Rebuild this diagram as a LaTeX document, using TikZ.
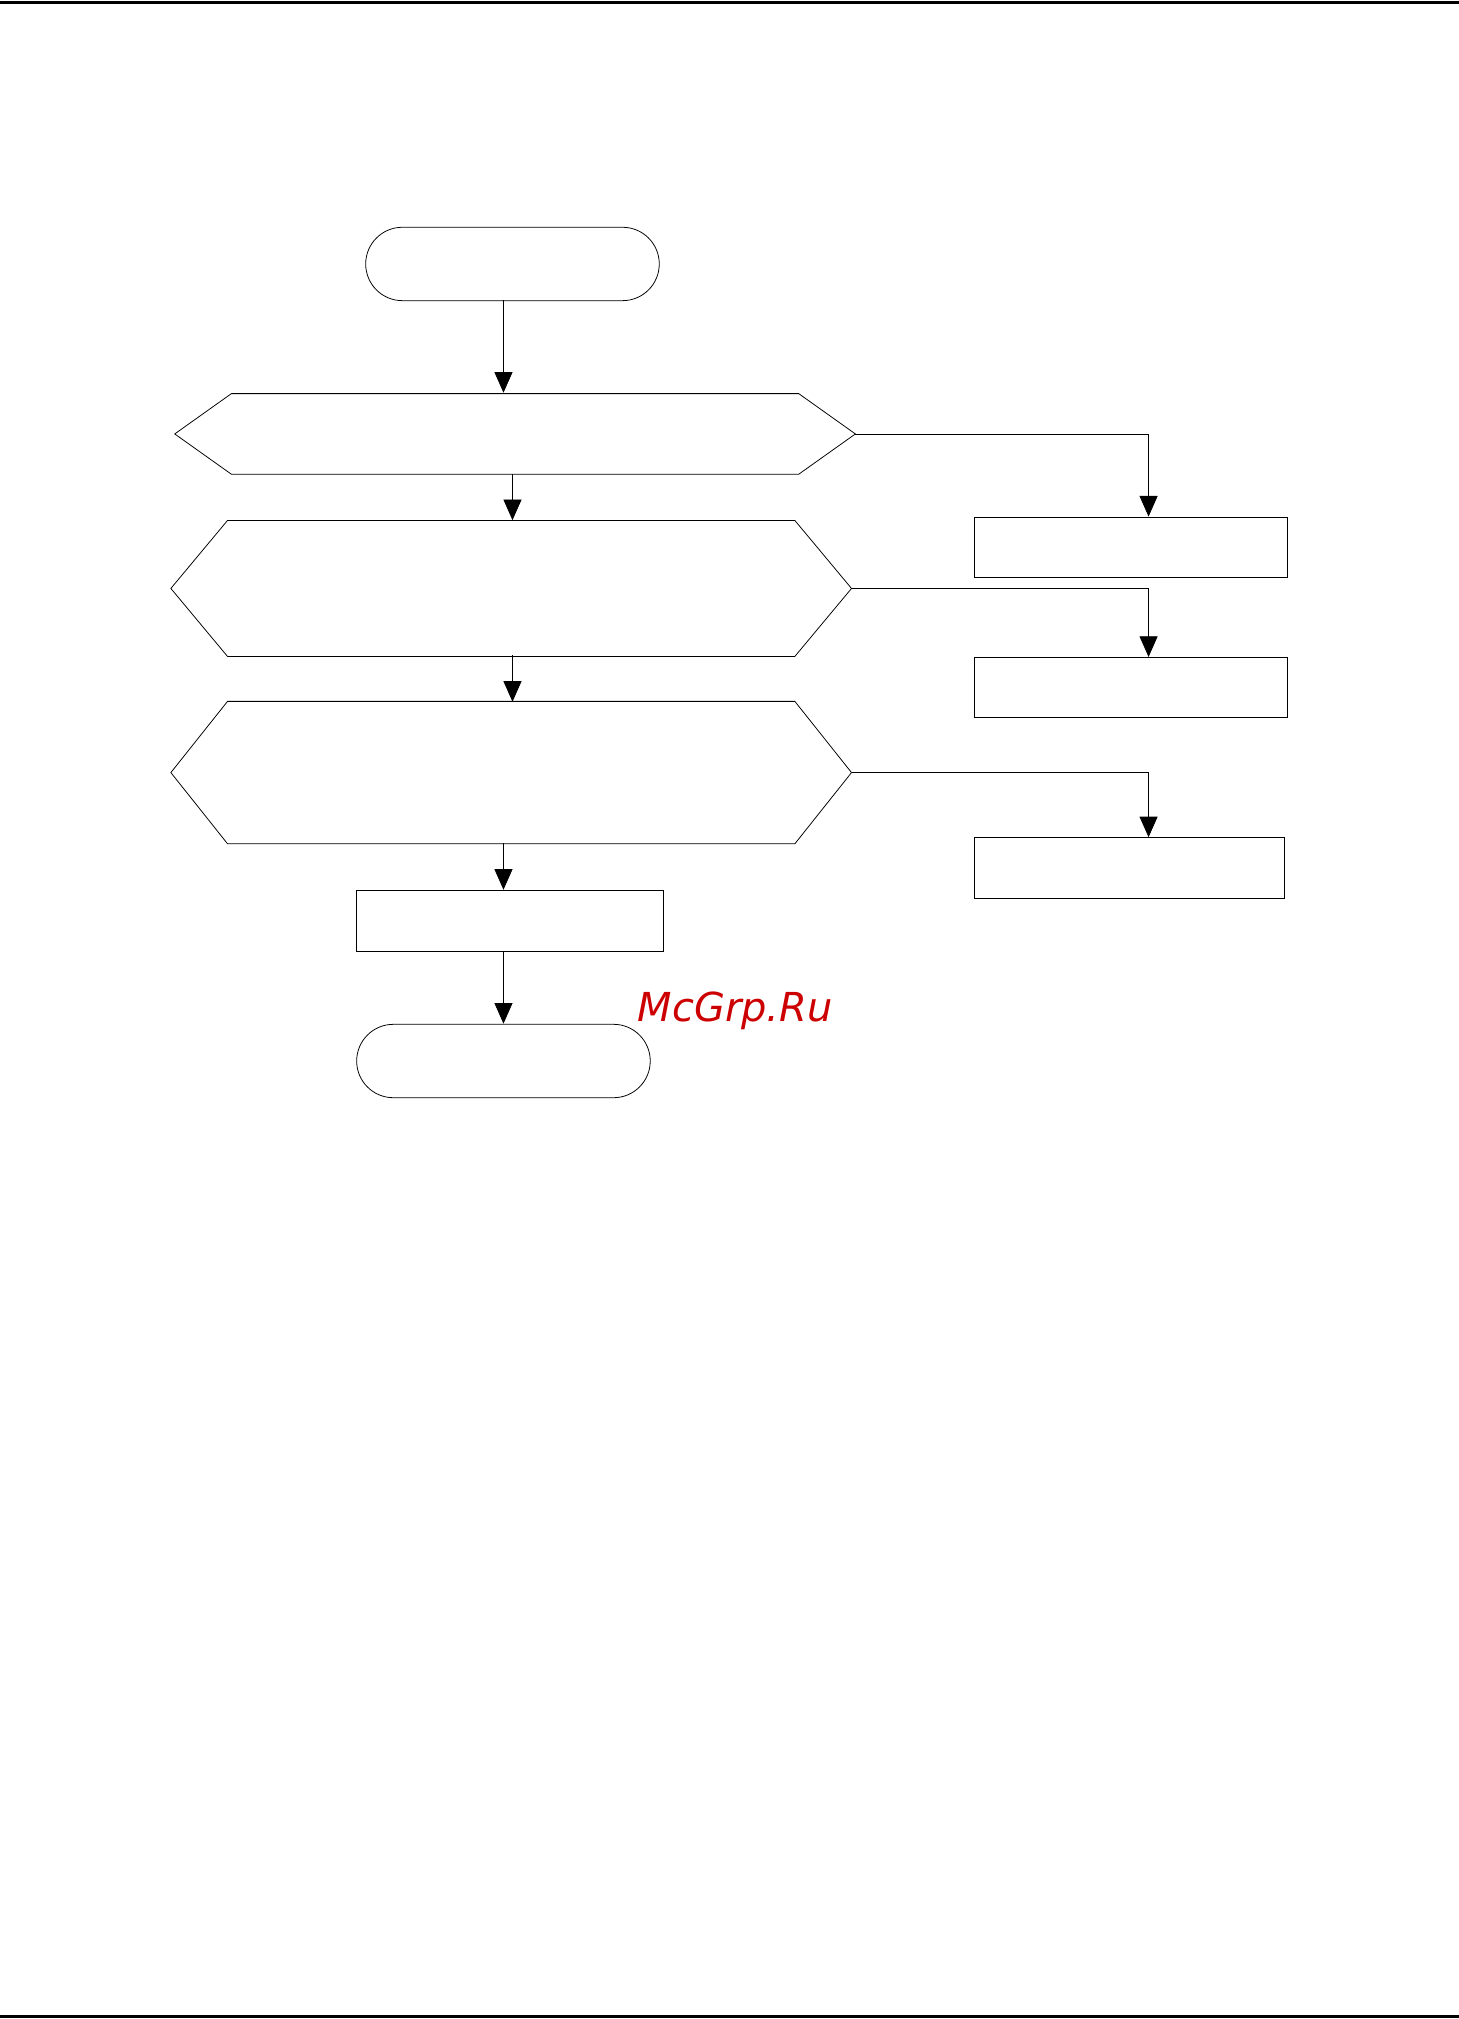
\documentclass[tikz,border=0pt]{standalone}
\usepackage{fontspec}
\usetikzlibrary{positioning, arrows.meta, shapes.misc}

% hexagon outline around a named node
\newcommand{\hexoutline}[2]{%
  \draw[line width=0.6pt] (#1.west) -- ([xshift=#2]#1.north west) -- ([xshift=-#2]#1.north east)
    -- (#1.east) -- ([xshift=-#2]#1.south east) -- ([xshift=#2]#1.south west) -- cycle;}

\begin{document}
\begin{tikzpicture}[
  x=1pt, y=-1pt,
  every node/.style={draw, inner sep=0pt, line width=0.6pt},
  term/.style={rounded rectangle, minimum width=228pt, minimum height=57pt},
  hexa/.style={rectangle, draw=none, minimum width=528pt},
  procbox/.style={rectangle, minimum height=47pt},
  flow/.style={-{Triangle[length=16pt,width=14pt]}, line width=0.6pt}
]
\useasboundingbox (0,0) rectangle (1133,1568);
\draw[line width=2pt] (0,2) -- (1133,2);
\draw[line width=2pt] (0,1566) -- (1133,1566);

% main column
\node[term] (start) at (398,205) {};
\node[hexa, minimum height=62pt] (q1) at (400,337) {};
\node[hexa, minimum height=105pt] (q2) at (397,457) {};
\node[hexa, minimum height=110pt] (q3) at (397,600) {};
\hexoutline{q1}{44pt}
\hexoutline{q2}{44pt}
\hexoutline{q3}{44pt}
\node[procbox, minimum width=238pt] (work) at (396,715) {};
\node[term] (stop) at (391,824) {};

% side boxes
\node[procbox, minimum width=243pt] (r1) at (878,425) {};
\node[procbox, minimum width=243pt] (r2) at (878,534) {};
\node[procbox, minimum width=241pt] (r3) at (877,674) {};

\draw[flow] (391,233) -- (391,305);
\draw[flow] (398,368) -- (398,404);
\draw[flow] (398,509) -- (398,545);
\draw[flow] (391,655) -- (391,691);
\draw[flow] (391,739) -- (391,795);

\draw[flow] (q1.east) -| (r1.north -| 892,0);
\draw[flow] (q2.east) -| (r2.north -| 892,0);
\draw[flow] (q3.east) -| (r3.north -| 892,0);

\node[draw=none, text=red!80!black, font=\fontspec{DejaVu Sans Oblique}\fontsize{31}{36}\selectfont]
  (mark) at (571,785) {McGrp.Ru};
\end{tikzpicture}
\end{document}
